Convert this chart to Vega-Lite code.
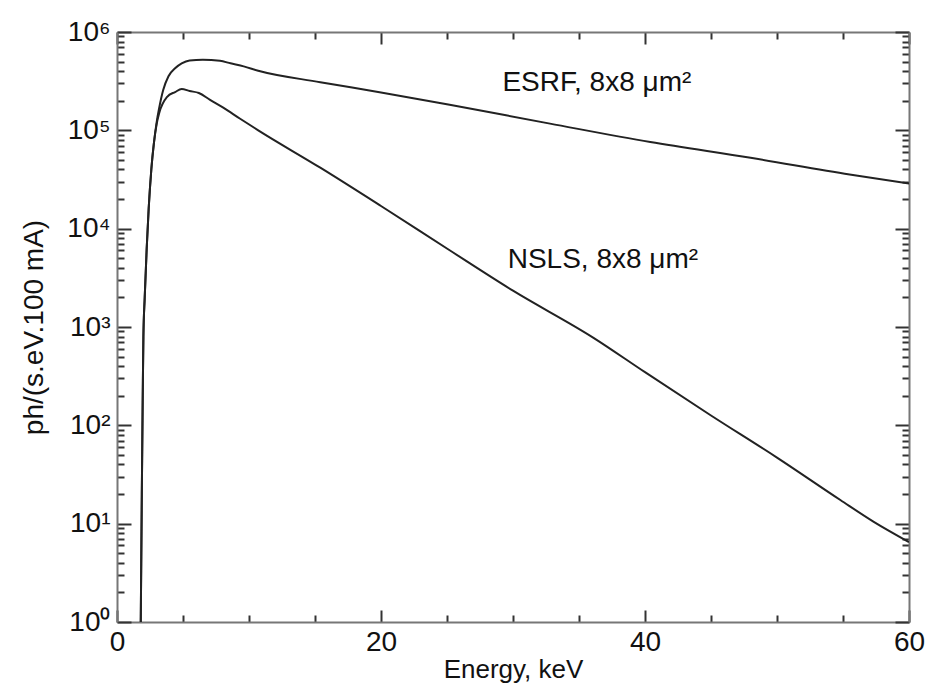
{
  "$schema": "https://vega.github.io/schema/vega-lite/v6.json",
  "width": 792,
  "height": 590,
  "autosize": {"type": "none"},
  "padding": {"left": 117, "top": 32, "right": 16, "bottom": 64},
  "background": "white",
  "config": {
    "view": {"stroke": null},
    "font": "Liberation Sans",
    "axis": {
      "domainColor": "#777",
      "domainWidth": 2,
      "tickColor": "#333",
      "tickWidth": 2,
      "labelFont": "Liberation Sans",
      "labelFontSize": 28,
      "labelColor": "#111",
      "titleFont": "Liberation Sans",
      "titleFontSize": 28,
      "titleFontWeight": "normal",
      "titleColor": "#111",
      "grid": false,
      "labelOverlap": false
    }
  },
  "datasets": {
    "curves": [
      {"series": "ESRF", "energy": 1.8, "flux": 1},
      {"series": "ESRF", "energy": 1.88, "flux": 20},
      {"series": "ESRF", "energy": 1.95, "flux": 200},
      {"series": "ESRF", "energy": 2.0, "flux": 800},
      {"series": "ESRF", "energy": 2.1, "flux": 2000},
      {"series": "ESRF", "energy": 2.25, "flux": 6300},
      {"series": "ESRF", "energy": 2.4, "flux": 16000},
      {"series": "ESRF", "energy": 2.6, "flux": 40000},
      {"series": "ESRF", "energy": 2.8, "flux": 75000},
      {"series": "ESRF", "energy": 3.0, "flux": 120000},
      {"series": "ESRF", "energy": 3.2, "flux": 170000},
      {"series": "ESRF", "energy": 3.5, "flux": 257000},
      {"series": "ESRF", "energy": 3.9, "flux": 355000},
      {"series": "ESRF", "energy": 4.4, "flux": 427000},
      {"series": "ESRF", "energy": 4.9, "flux": 479000},
      {"series": "ESRF", "energy": 5.5, "flux": 513000},
      {"series": "ESRF", "energy": 6.5, "flux": 522000},
      {"series": "ESRF", "energy": 7.8, "flux": 510000},
      {"series": "ESRF", "energy": 8.6, "flux": 480000},
      {"series": "ESRF", "energy": 9.6, "flux": 447000},
      {"series": "ESRF", "energy": 10.7, "flux": 403000},
      {"series": "ESRF", "energy": 15.4, "flux": 309000},
      {"series": "ESRF", "energy": 20, "flux": 243000},
      {"series": "ESRF", "energy": 25.2, "flux": 182000},
      {"series": "ESRF", "energy": 32.8, "flux": 117000},
      {"series": "ESRF", "energy": 40.4, "flux": 76000},
      {"series": "ESRF", "energy": 48, "flux": 52500},
      {"series": "ESRF", "energy": 55.5, "flux": 35500},
      {"series": "ESRF", "energy": 60, "flux": 28800},
      {"series": "NSLS", "energy": 1.8, "flux": 1},
      {"series": "NSLS", "energy": 1.88, "flux": 20},
      {"series": "NSLS", "energy": 1.95, "flux": 200},
      {"series": "NSLS", "energy": 2.0, "flux": 800},
      {"series": "NSLS", "energy": 2.1, "flux": 2000},
      {"series": "NSLS", "energy": 2.25, "flux": 6300},
      {"series": "NSLS", "energy": 2.4, "flux": 16000},
      {"series": "NSLS", "energy": 2.6, "flux": 40000},
      {"series": "NSLS", "energy": 2.8, "flux": 75000},
      {"series": "NSLS", "energy": 3.0, "flux": 115000},
      {"series": "NSLS", "energy": 3.2, "flux": 150000},
      {"series": "NSLS", "energy": 3.8, "flux": 219000},
      {"series": "NSLS", "energy": 4.4, "flux": 245000},
      {"series": "NSLS", "energy": 4.9, "flux": 263000},
      {"series": "NSLS", "energy": 5.5, "flux": 251000},
      {"series": "NSLS", "energy": 6.2, "flux": 240000},
      {"series": "NSLS", "energy": 7.05, "flux": 204000},
      {"series": "NSLS", "energy": 8.05, "flux": 170000},
      {"series": "NSLS", "energy": 9.3, "flux": 132000},
      {"series": "NSLS", "energy": 10.7, "flux": 100000},
      {"series": "NSLS", "energy": 15.4, "flux": 41700},
      {"series": "NSLS", "energy": 20, "flux": 17000},
      {"series": "NSLS", "energy": 25.2, "flux": 6030},
      {"series": "NSLS", "energy": 30, "flux": 2340},
      {"series": "NSLS", "energy": 36.1, "flux": 776},
      {"series": "NSLS", "energy": 40, "flux": 347},
      {"series": "NSLS", "energy": 45, "flux": 126},
      {"series": "NSLS", "energy": 50, "flux": 47},
      {"series": "NSLS", "energy": 54.8, "flux": 17.4},
      {"series": "NSLS", "energy": 57.3, "flux": 10.5},
      {"series": "NSLS", "energy": 60, "flux": 6.5}
    ],
    "labels": [
      {"energy": 29.2, "flux": 300000, "label": "ESRF, 8x8 μm²"},
      {"energy": 29.6, "flux": 4800, "label": "NSLS, 8x8 μm²"}
    ]
  },
  "layer": [
    {
      "data": {"name": "curves"},
      "mark": {"type": "line", "color": "#222", "strokeWidth": 2, "interpolate": "monotone", "clip": true},
      "encoding": {
        "x": {
          "field": "energy", "type": "quantitative",
          "scale": {"domain": [0, 60], "nice": false},
          "axis": {
            "orient": "bottom",
            "values": [0, 5, 10, 15, 20, 25, 30, 35, 40, 45, 50, 55, 60],
            "labelExpr": "datum.value % 20 === 0 ? datum.label : ''",
            "tickSize": {"condition": {"test": "datum.value % 20 === 0", "value": -12}, "value": -7},
            "labelPadding": 18,
            "labelFlush": false,
            "title": "Energy, keV",
            "titleFontSize": 26,
            "titlePadding": -5
          }
        },
        "y": {
          "field": "flux", "type": "quantitative",
          "scale": {"type": "log", "domain": [1, 1000000], "nice": false},
          "axis": {
            "orient": "left",
            "values": [1,2,3,4,5,6,7,8,9,10,20,30,40,50,60,70,80,90,100,200,300,400,500,600,700,800,900,1000,2000,3000,4000,5000,6000,7000,8000,9000,10000,20000,30000,40000,50000,60000,70000,80000,90000,100000,200000,300000,400000,500000,600000,700000,800000,900000,1000000],
            "labelExpr": "abs(log(datum.value)/LN10 - round(log(datum.value)/LN10)) < 1e-6 ? '10' + ['⁰','¹','²','³','⁴','⁵','⁶'][round(log(datum.value)/LN10)] : ''",
            "tickSize": {"condition": {"test": "abs(log(datum.value)/LN10 - round(log(datum.value)/LN10)) < 1e-6", "value": -14}, "value": -7},
            "labelPadding": 21,
            "title": "ph/(s.eV.100 mA)",
            "titlePadding": 18
          }
        },
        "detail": {"field": "series"}
      }
    },
    {
      "data": {"name": "curves"},
      "mark": {"type": "line", "opacity": 0},
      "encoding": {
        "x": {
          "field": "energy", "type": "quantitative",
          "axis": {
            "orient": "top",
            "values": [0, 5, 10, 15, 20, 25, 30, 35, 40, 45, 50, 55, 60],
            "labels": false,
            "tickSize": {"condition": {"test": "datum.value % 20 === 0", "value": -12}, "value": -7},
            "title": null
          }
        },
        "y": {
          "field": "flux", "type": "quantitative",
          "axis": {
            "orient": "right",
            "values": [1,2,3,4,5,6,7,8,9,10,20,30,40,50,60,70,80,90,100,200,300,400,500,600,700,800,900,1000,2000,3000,4000,5000,6000,7000,8000,9000,10000,20000,30000,40000,50000,60000,70000,80000,90000,100000,200000,300000,400000,500000,600000,700000,800000,900000,1000000],
            "labels": false,
            "tickSize": {"condition": {"test": "abs(log(datum.value)/LN10 - round(log(datum.value)/LN10)) < 1e-6", "value": -14}, "value": -7},
            "title": null
          }
        },
        "detail": {"field": "series"}
      }
    },
    {
      "data": {"name": "labels"},
      "mark": {"type": "text", "align": "left", "baseline": "middle", "fontSize": 28, "font": "Liberation Sans", "color": "#111"},
      "encoding": {
        "x": {"field": "energy", "type": "quantitative", "axis": null},
        "y": {"field": "flux", "type": "quantitative", "axis": null},
        "text": {"field": "label"}
      }
    }
  ],
  "resolve": {"axis": {"x": "independent", "y": "independent"}}
}
